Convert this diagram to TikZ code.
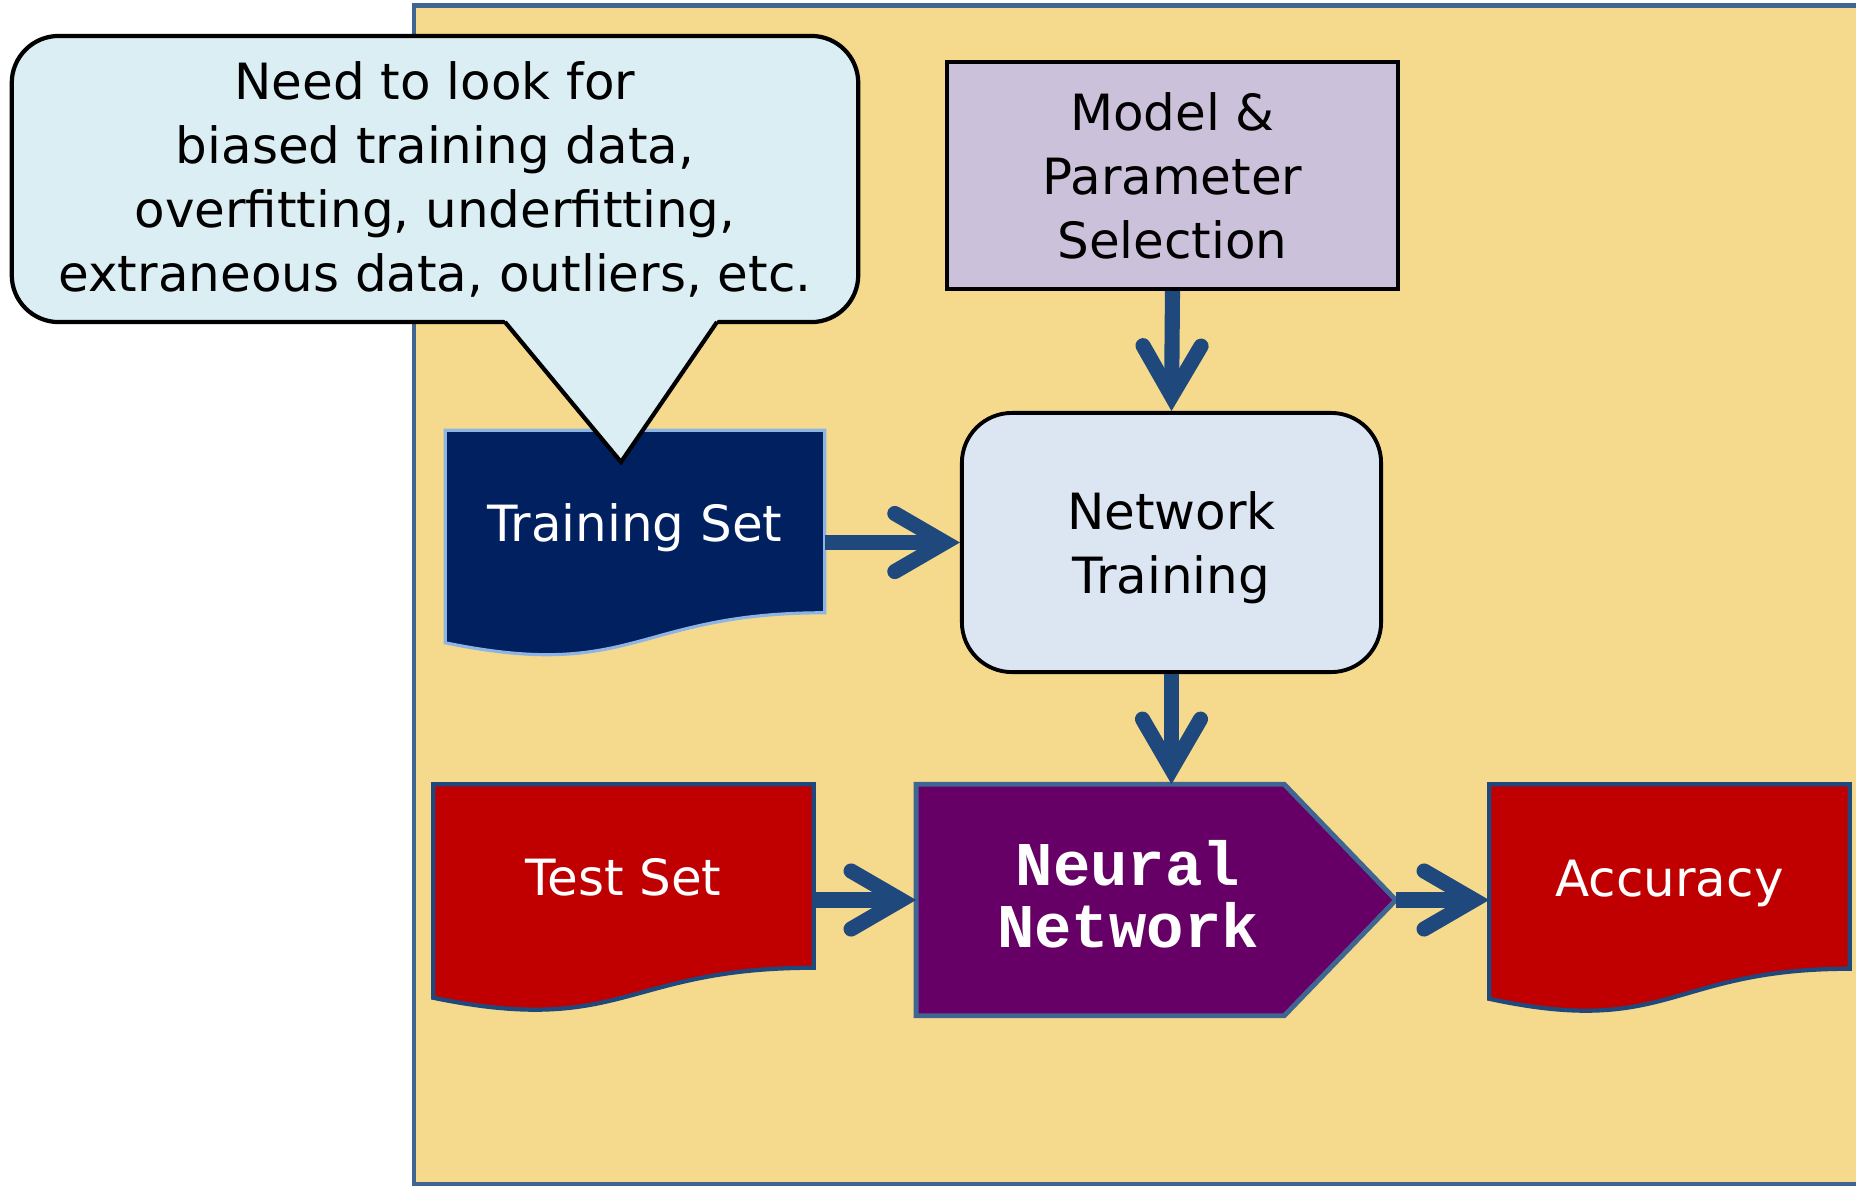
\documentclass[tikz,border=0pt]{standalone}
\usepackage{fontspec}
\setmainfont{DejaVu Sans}
\newfontfamily\monofam{Liberation Mono}
\usetikzlibrary{arrows.meta,calc}

\definecolor{panel}{HTML}{F5D98C}
\definecolor{panelrule}{HTML}{3F6592}
\definecolor{callfill}{HTML}{DAEEF3}
\definecolor{modelfill}{HTML}{CCC1DA}
\definecolor{trainfill}{HTML}{DCE6F2}
\definecolor{navy}{HTML}{002060}
\definecolor{navyrule}{HTML}{8EB4E3}
\definecolor{docred}{HTML}{C00000}
\definecolor{docrule}{HTML}{1F497D}
\definecolor{plum}{HTML}{660066}
\definecolor{flowblue}{HTML}{1F497D}

\pgfdeclarelayer{back}
\pgfdeclarelayer{shapes}
\pgfsetlayers{back,shapes,main}

% flowchart "document" outline around a node: flat top, wavy bottom
\newcommand\docoutline[2]{%
  \path[#2] (#1.north west) -- (#1.north east) -- (#1.south east)
    .. controls (#1.south) and ($(#1.south)+(0,69)$) .. ($(#1.south west)+(0,30)$) -- cycle;}

\newcommand\lblsize{\fontsize{14.2pt}{18.2pt}\selectfont}

\tikzset{
  box/.style={draw=black, line width=1.1pt, align=center, inner sep=0pt, font=\lblsize},
  docnode/.style={inner sep=0pt, text=white, font=\lblsize, text height=11.1pt, text depth=0pt},
  flow/.style={draw=flowblue, line width=4.3pt,
    -{Straight Barb[length=0.5cm, width=0.58cm, line cap=round, line join=miter]}},
}

\begin{document}
\begin{tikzpicture}[x=0.01cm, y=-0.01cm]
\useasboundingbox (0,0) rectangle (1856,1187);

\begin{pgfonlayer}{back}
  \fill[white] (0,0) rectangle (1856,1187);
  \draw[panelrule, line width=1.4pt, fill=panel] (414,5.5) rectangle (1920,1184);
\end{pgfonlayer}

% boxes
\node[box, fill=modelfill, minimum width=4.51cm, minimum height=2.27cm]
  (mp) at (1172.5,175.5) {Model \&\\Parameter\\Selection};
\node[box, fill=trainfill, rounded corners=0.5cm, minimum width=4.19cm, minimum height=2.59cm]
  (nt) at (1171.5,542.5) {\rule{0pt}{13.6pt}Network\\Training};

% document-shaped nodes
\node[docnode, minimum width=3.78cm, minimum height=1.81cm] (ts) at (635,521.5) {Training Set};
\node[docnode, minimum width=3.79cm, minimum height=1.82cm] (tst) at (623.5,876) {Test Set};
\node[docnode, minimum width=3.59cm, minimum height=1.83cm] (acc) at (1669.5,876.5) {Accuracy};

% the network itself: a home-plate pentagon
\node[inner sep=0pt, text=white, align=center, minimum width=4.22cm, minimum height=2.30cm,
  font=\monofam\bfseries\fontsize{17.7pt}{17.4pt}\selectfont]
  (nn) at (1128,900) {Neural\\Network\rule[-3.4pt]{0pt}{0pt}};
\coordinate (nntip) at ($(nn.east)+(56,0)$);

\begin{pgfonlayer}{shapes}
  \docoutline{ts}{fill=navy, draw=navyrule, line width=0.9pt}
  \docoutline{tst}{fill=docred, draw=docrule, line width=1.2pt}
  \docoutline{acc}{fill=docred, draw=docrule, line width=1.2pt}
  \path[fill=plum, draw=panelrule, line width=1.4pt, line join=miter]
    (nn.north west) -- ($(nn.north west)+(368,0)$) -- (nntip)
    -- ($(nn.south west)+(368,0)$) -- (nn.south west) -- cycle;
\end{pgfonlayer}

% speech bubble
\node[draw=black, line width=1.2pt, fill=callfill, rounded corners=0.47cm,
  minimum width=8.46cm, minimum height=2.86cm, align=center, inner sep=0pt, font=\lblsize]
  (note) at (435,179)
  {Need to look for\\biased training data,\\overfitting, underfitting,\\extraneous data, outliers, etc.};
\fill[callfill] (503,318) -- (621,462) -- (719,318) -- cycle;
\draw[black, line width=1.2pt, line join=miter] (505,322) -- (621,462) -- (717,322);

% flow arrows
\draw[flow] (mp.south) -- (nt.north);
\draw[flow] (ts.east |- nt.west) -- (nt.west);
\draw[flow] (nt.south) -- (nt.south |- nn.north);
\draw[flow] (tst.east |- nn.west) -- (nn.west);
\draw[flow] (nntip) -- (nntip -| acc.west);
\end{tikzpicture}
\end{document}
